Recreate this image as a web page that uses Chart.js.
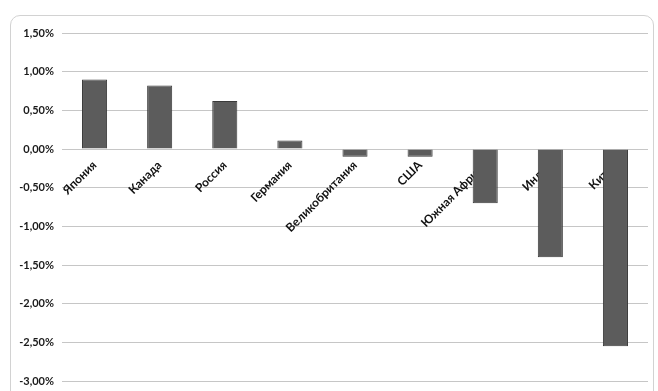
<!DOCTYPE html>
<html lang="ru">
<head>
<meta charset="utf-8">
<script src="https://cdn.jsdelivr.net/npm/chart.js@4/dist/chart.umd.min.js"></script>
<style>
  html, body { margin: 0; padding: 0; background: #ffffff; }
  #wrap { position: relative; width: 658px; height: 391px; overflow: hidden; }
  #frame { position: absolute; left: 10px; top: 15px; width: 644px; height: 400px;
           border: 1px solid #d2d2d2; border-radius: 10px; box-sizing: border-box; }
  canvas { position: absolute; left: 0; top: 0; }
</style>
</head>
<body>
<div id="wrap">
  <div id="frame"></div>
  <canvas id="c" width="658" height="391"></canvas>
</div>
<script>
// Countries along the category axis
const countries = ['Япония', 'Канада', 'Россия', 'Германия', 'Великобритания', 'США', 'Южная Африка', 'Индия', 'Китай'];
// Change, percent
const changePct = [0.90, 0.82, 0.62, 0.11, -0.10, -0.10, -0.70, -1.40, -2.55];
// Value axis range and step, percent
const yMin = -3.0;
const yMax = 1.5;
const yStep = 0.5;

const fmtPct = v => v.toFixed(2).replace('.', ',') + '%';

new Chart(document.getElementById('c'), {
  type: 'bar',
  data: {
    labels: countries,
    datasets: [{
      data: changePct,
      backgroundColor: '#5c5c5c',
      borderColor: '#3a3a3a',
      borderWidth: 1,
      barPercentage: 0.385,
      categoryPercentage: 1.0
    }]
  },
  options: {
    responsive: false,
    animation: false,
    layout: { padding: { top: 33, bottom: 10, left: 0, right: 10 } },
    plugins: { legend: { display: false }, tooltip: { enabled: false } },
    scales: {
      x: {
        // category labels sit on the zero line and are painted above the bars
        position: { y: 0 },
        z: 1,
        afterFit: s => { s.paddingTop = 0; s.paddingBottom = 0; },
        grid: { display: false, drawTicks: false },
        border: { display: false },
        ticks: {
          autoSkip: false,
          minRotation: 45,
          maxRotation: 45,
          padding: 9,
          color: '#111111',
          font: { family: 'Lato', weight: 'bold', size: 12 }
        }
      },
      y: {
        min: yMin,
        max: yMax,
        afterFit: s => { s.width = 62; s.paddingTop = 0; s.paddingBottom = 0; },
        grid: { color: '#c6c6c6', lineWidth: 1, drawTicks: false },
        border: { display: false },
        ticks: {
          stepSize: yStep,
          padding: 8,
          color: '#1a1a1a',
          font: { family: 'Lato', weight: 'bold', size: 11 },
          callback: v => fmtPct(v)
        }
      }
    }
  }
});
</script>
</body>
</html>
